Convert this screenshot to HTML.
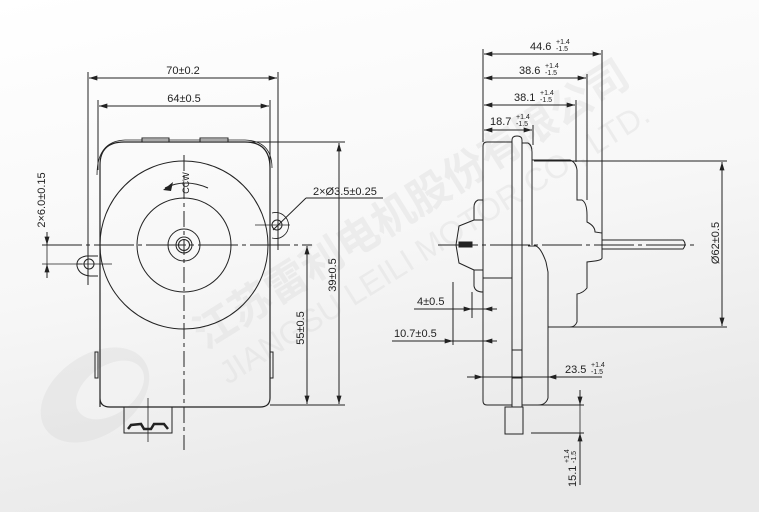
<!DOCTYPE html>
<html><head><meta charset="utf-8"><style>
html,body{margin:0;padding:0;background:#fff}
svg{display:block}
text{font-family:"Liberation Sans","Noto Sans CJK SC",sans-serif;fill:#222}
</style></head><body>
<svg width="759" height="512" viewBox="0 0 759 512" xmlns="http://www.w3.org/2000/svg">
<defs>
<linearGradient id="bg" x1="0" y1="0" x2="0.3" y2="1">
<stop offset="0" stop-color="#ffffff"/><stop offset="0.55" stop-color="#f7f7f7"/><stop offset="1" stop-color="#e9e9e9"/></linearGradient>
<marker id="a" viewBox="0 0 10 6" refX="10" refY="3" markerWidth="9" markerHeight="5" orient="auto-start-reverse" markerUnits="userSpaceOnUse"><path d="M0,0L10,3L0,6z" fill="#222"/></marker>
</defs>
<rect width="759" height="512" fill="url(#bg)"/>
<g opacity="0.35">
<ellipse cx="95" cy="395" rx="60" ry="40" fill="#d6d6d6" transform="rotate(-35 95 395)"/>
<ellipse cx="110" cy="390" rx="38" ry="24" fill="#f2f2f2" transform="rotate(-35 110 390)"/>
<text x="0" y="0" font-size="42" font-weight="bold" style="fill:#d8d8d8" transform="translate(205,350) rotate(-32)">江苏雷利电机股份有限公司</text>
<text x="0" y="0" font-size="32" style="fill:#d8d8d8" transform="translate(228,385) rotate(-32)">JIANGSU LEILI MOTOR CO., LTD.</text>
</g>
<g stroke="#222" stroke-width="1" fill="none">
<line x1="88" y1="72" x2="88" y2="285"/><line x1="278" y1="72" x2="278" y2="250"/>
<line x1="89" y1="78" x2="277" y2="78" marker-start="url(#a)" marker-end="url(#a)"/>
<line x1="98" y1="100" x2="98" y2="170"/><line x1="270" y1="100" x2="270" y2="178"/>
<line x1="99" y1="106" x2="269" y2="106" marker-start="url(#a)" marker-end="url(#a)"/>
<rect x="142" y="138" width="27" height="4"/><rect x="200" y="138" width="28" height="4"/>
<path d="M100,407 L100,165 Q100,142 124,142 L245,142 Q270,142 270,168 L270,398 Q270,407 260,407 L110,407 Q100,407 100,398Z" stroke-width="1.2"/>
<path d="M97,175 Q97,141 125,140 L245,140 Q272,141 272,168" stroke-width="0.8"/>
<rect x="95" y="352" width="3" height="26"/><rect x="270" y="352" width="3" height="26"/>
<circle cx="184" cy="245" r="84"/>
<circle cx="184" cy="245" r="47"/>
<circle cx="184" cy="245" r="16"/><circle cx="184" cy="245" r="8"/><circle cx="184" cy="245" r="5.5"/>
<path d="M208,188 Q185,178 165,188"/>
<path d="M98,256 L86,256 Q76,258 77,266 Q79,275 90,276 L98,276"/>
<circle cx="89" cy="264" r="5"/>
<line x1="77" y1="264" x2="112" y2="264" stroke-width="0.7"/>
<circle cx="277" cy="225" r="5"/>
<path d="M272,213 A13,13 0 1 1 272,238" stroke-width="0.8"/>
<line x1="255" y1="225" x2="290" y2="225" stroke-width="0.7"/>
<line x1="278" y1="222" x2="278" y2="236" stroke-width="0.7"/>
<line x1="273" y1="230" x2="306" y2="198"/><line x1="306" y1="198" x2="383" y2="198"/>
<line x1="42" y1="245" x2="312" y2="245" stroke-dasharray="40,4,4,4"/>
<line x1="184" y1="155" x2="184" y2="450" stroke-dasharray="16,4,4,4"/>
<line x1="47" y1="245" x2="47" y2="272" stroke-width="0.8"/>
<line x1="47" y1="232" x2="47" y2="245" marker-end="url(#a)"/>
<line x1="47" y1="278" x2="47" y2="264" marker-end="url(#a)"/>
<line x1="42" y1="264" x2="82" y2="264" stroke-width="0.8"/>
<line x1="270" y1="405" x2="345" y2="405"/><line x1="245" y1="142" x2="345" y2="142"/>
<line x1="307" y1="246" x2="307" y2="404" marker-start="url(#a)" marker-end="url(#a)"/>
<line x1="339" y1="143" x2="339" y2="404" marker-start="url(#a)" marker-end="url(#a)"/>
<rect x="124" y="407" width="48" height="26"/>
<path d="M128,429 L131,425 L141,424 L144,429 L151,429 L154,424 L164,424 L168,429" stroke-width="2.5"/>
<line x1="148" y1="398" x2="148" y2="442" stroke-width="0.8"/>
<line x1="483" y1="49" x2="483" y2="142"/>
<line x1="602" y1="50" x2="602" y2="238"/><line x1="587" y1="74" x2="587" y2="200"/><line x1="576" y1="100" x2="576" y2="162"/><line x1="533" y1="125" x2="533" y2="145"/>
<line x1="484" y1="54" x2="601" y2="54" marker-start="url(#a)" marker-end="url(#a)"/>
<line x1="484" y1="78" x2="586" y2="78" marker-start="url(#a)" marker-end="url(#a)"/>
<line x1="484" y1="105" x2="575" y2="105" marker-start="url(#a)" marker-end="url(#a)"/>
<line x1="484" y1="130" x2="532" y2="130" marker-start="url(#a)" marker-end="url(#a)"/>
<path d="M487,142 L512,142 L512,405 L487,405 Q483,405 483,401 L483,146 Q483,142 487,142Z"/>
<path d="M512,140 Q512,136 517,136 Q522,136 522,140 L522,407 L512,407Z"/>
<path d="M522,143 L528,143 Q532,145 532,152 L532,245"/>
<path d="M532,160 L570,160 Q576,162 577,170 L577,200 L582,200 Q587,203 587,215 L587,222 Q595,226 595,232 L602,233 L602,258 Q602,260 595,261 L587,262 L587,288 Q583,293 577,294 L577,322 Q575,327 570,327 L548,327"/>
<path d="M602,240 L683,240 Q687,244 683,249 L602,249"/>
<path d="M528,246 L536,246 Q541,248 546,262 L548,272 L548,398 Q546,405 538,405 L522,405"/>
<path d="M483,200 L478,200 Q474,202 474,207 L474,220 L459,226 L456,245 L459,263 L474,270 L474,286 Q475,292 483,292"/>
<path d="M474,220 L483,220 M474,270 L483,270 M483,278 L512,278"/>
<rect x="459" y="242" width="13" height="5" fill="#222"/>
<rect x="512" y="350" width="10" height="28"/>
<rect x="505" y="407" width="18" height="27"/>
<line x1="438" y1="245" x2="695" y2="245" stroke-dasharray="40,4,4,4"/>
<line x1="534" y1="161" x2="727" y2="161"/><line x1="548" y1="327" x2="727" y2="327"/>
<line x1="722" y1="162" x2="722" y2="326" marker-start="url(#a)" marker-end="url(#a)"/>
<line x1="472" y1="292" x2="472" y2="318"/><line x1="453" y1="282" x2="453" y2="345"/>
<line x1="414" y1="309" x2="497" y2="309"/>
<line x1="460" y1="309" x2="472" y2="309" marker-end="url(#a)"/>
<line x1="497" y1="309" x2="484" y2="309" marker-end="url(#a)"/>
<line x1="392" y1="341" x2="497" y2="341"/>
<line x1="442" y1="341" x2="453" y2="341" marker-end="url(#a)"/>
<line x1="497" y1="341" x2="484" y2="341" marker-end="url(#a)"/>
<line x1="467" y1="377" x2="602" y2="377"/>
<line x1="470" y1="377" x2="483" y2="377" marker-end="url(#a)"/>
<line x1="565" y1="377" x2="548" y2="377" marker-end="url(#a)"/>
<line x1="526" y1="405" x2="584" y2="405"/><line x1="531" y1="433" x2="584" y2="433"/>
<line x1="580" y1="390" x2="580" y2="405" marker-end="url(#a)"/>
<line x1="580" y1="405" x2="580" y2="433" stroke-width="0.8"/>
<line x1="580" y1="485" x2="580" y2="433" marker-end="url(#a)"/>
</g>
<g font-size="11">
<text x="183" y="74" text-anchor="middle">70±0.2</text>
<text x="184" y="102" text-anchor="middle">64±0.5</text>
<text x="180" y="180" font-size="9" transform="rotate(-90 186 177)" text-anchor="middle" style="fill:#222">CCW</text>
<path d="M163,190 L173,182 L171,191Z" fill="#222"/>
<text x="313" y="195">2×Ø3.5±0.25</text>
<text transform="translate(45,200) rotate(-90)" text-anchor="middle">2×6.0±0.15</text>
<text transform="translate(304,328) rotate(-90)" text-anchor="middle">55±0.5</text>
<text transform="translate(336,275) rotate(-90)" text-anchor="middle">39±0.5</text>
<text x="530" y="50">44.6</text><text x="556" y="44" font-size="7">+1.4</text><text x="556" y="51" font-size="7">-1.5</text>
<text x="519" y="74">38.6</text><text x="545" y="68" font-size="7">+1.4</text><text x="545" y="75" font-size="7">-1.5</text>
<text x="514" y="101">38.1</text><text x="540" y="95" font-size="7">+1.4</text><text x="540" y="102" font-size="7">-1.5</text>
<text x="490" y="125">18.7</text><text x="516" y="119" font-size="7">+1.4</text><text x="516" y="126" font-size="7">-1.5</text>
<text transform="translate(719,243) rotate(-90)" text-anchor="middle">Ø62±0.5</text>
<text x="417" y="305">4±0.5</text>
<text x="394" y="337">10.7±0.5</text>
<text x="565" y="373">23.5</text><text x="591" y="367" font-size="7">+1.4</text><text x="591" y="374" font-size="7">-1.5</text>
<text transform="translate(576,487) rotate(-90)">15.1</text>
<text transform="translate(569,463) rotate(-90)" font-size="7">+1.4</text>
<text transform="translate(576,463) rotate(-90)" font-size="7">-1.5</text>
</g>
</svg>
</body></html>
